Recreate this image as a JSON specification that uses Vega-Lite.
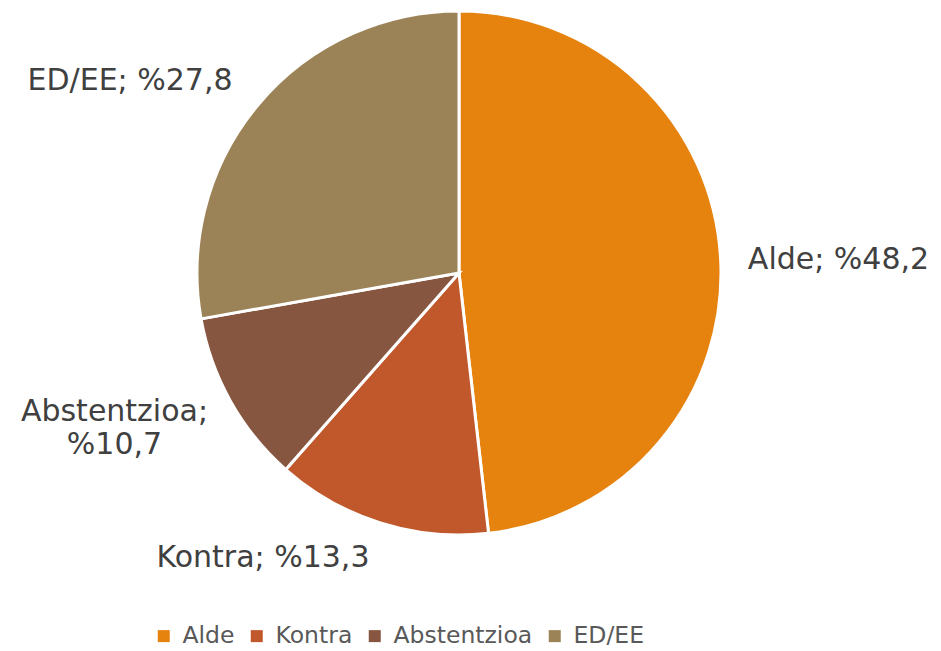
{
  "$schema": "https://vega.github.io/schema/vega-lite/v6.json",
  "width": 918,
  "height": 546,
  "autosize": "none",
  "padding": {"left": 0, "top": 0, "right": 23, "bottom": 105},
  "background": "white",
  "config": {"view": {"stroke": null}, "font": "DejaVu Sans"},
  "data": {
    "values": [
      {"k": "Alde", "v": 48.2, "o": 1, "t": "Alde; %48,2"},
      {"k": "Kontra", "v": 13.3, "o": 2, "t": "Kontra; %13,3"},
      {"k": "Abstentzioa", "v": 10.7, "o": 3, "t": "Abstentzioa;\n%10,7"},
      {"k": "ED/EE", "v": 27.8, "o": 4, "t": "ED/EE; %27,8"}
    ]
  },
  "encoding": {
    "theta": {"field": "v", "type": "quantitative", "stack": true},
    "order": {"field": "o", "type": "quantitative"}
  },
  "layer": [
    {
      "mark": {"type": "arc", "outerRadius": 262, "stroke": "white", "strokeWidth": 3},
      "encoding": {
        "color": {
          "field": "k", "type": "nominal",
          "scale": {"domain": ["Alde", "Kontra", "Abstentzioa", "ED/EE"], "range": ["#E6820E", "#C0582B", "#875640", "#9C8357"]},
          "legend": {
            "title": null, "orient": "none", "direction": "horizontal",
            "legendX": 152, "legendY": 624,
            "symbolType": "square", "symbolSize": 144, "symbolStrokeWidth": 0,
            "labelFontSize": 23.5, "labelColor": "#595959", "labelOffset": 7,
            "columnPadding": 10, "labelFont": "DejaVu Sans"
          }
        }
      }
    },
    {
      "mark": {"type": "text", "radius": 300, "fontSize": 30, "color": "#404040", "align": "center", "baseline": "middle", "lineBreak": "\n", "dx": 80, "dy": 4},
      "encoding": {"text": {"condition": {"test": "datum.k == 'Alde'", "field": "t"}, "value": ""}}
    },
    {
      "mark": {"type": "text", "radius": 300, "fontSize": 30, "color": "#404040", "align": "center", "baseline": "middle", "lineBreak": "\n", "dx": -106, "dy": -1},
      "encoding": {"text": {"condition": {"test": "datum.k == 'Kontra'", "field": "t"}, "value": ""}}
    },
    {
      "mark": {"type": "text", "radius": 300, "fontSize": 30, "color": "#404040", "align": "center", "baseline": "middle", "lineBreak": "\n", "lineHeight": 33, "dx": -83, "dy": -8},
      "encoding": {"text": {"condition": {"test": "datum.k == 'Abstentzioa'", "field": "t"}, "value": ""}}
    },
    {
      "mark": {"type": "text", "radius": 300, "fontSize": 30, "color": "#404040", "align": "center", "baseline": "middle", "lineBreak": "\n", "dx": -99, "dy": 1},
      "encoding": {"text": {"condition": {"test": "datum.k == 'ED/EE'", "field": "t"}, "value": ""}}
    }
  ]
}
